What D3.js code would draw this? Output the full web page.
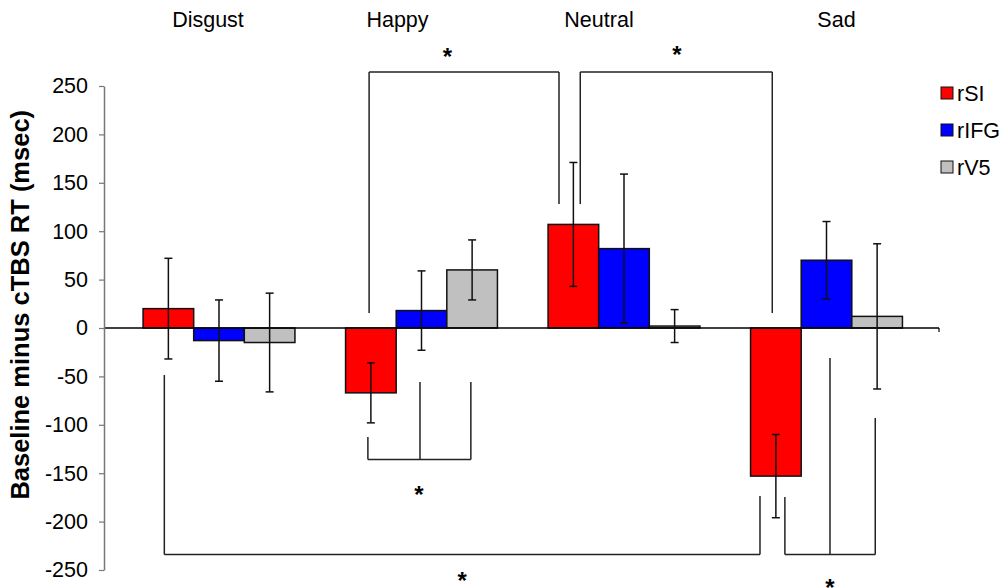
<!DOCTYPE html>
<html>
<head>
<meta charset="utf-8">
<script src="https://cdn.jsdelivr.net/npm/d3@7"></script>
<style>
  html, body { margin: 0; padding: 0; background: #fff; }
  svg { display: block; font-family: "Liberation Sans", Arial, sans-serif; }
</style>
</head>
<body>
<svg id="chart" width="1007" height="588"></svg>
<script>
// Emotion categories and TMS sites
const categories = ["Disgust", "Happy", "Neutral", "Sad"];
const sites = ["rSI", "rIFG", "rV5"];
const siteColors = ["#ff0000", "#0000ff", "#c0c0c0"];

// Baseline minus cTBS RT (msec), one array per site, in category order
const rSI  = [20, -67, 107, -153];
const rIFG = [-13, 18, 82, 70];
const rV5  = [-15, 60, 2, 12];

// Error bar half-lengths (msec)
const rSIErr  = [52, 31, 64, 43];
const rIFGErr = [42, 41, 77, 40];
const rV5Err  = [51, 31, 17, 75];

const yTicks = [250, 200, 150, 100, 50, 0, -50, -100, -150, -200, -250];

// Significance brackets: horizontal level (msec) plus legs [category, fraction of group width, leg end (msec)]
const brackets = [
  { level: 264.5, legs: [["Happy", 0.155, 15.5], ["Neutral", 0.072, 128]] },
  { level: 264.5, legs: [["Neutral", 0.212, 128], ["Sad", 0.143, 15.5]] },
  { level: -135.8, legs: [["Happy", 0.147, -112.6], ["Happy", 0.49, -55.8], ["Happy", 0.825, -55.8]] },
  { level: -234, legs: [["Disgust", 0.14, -48.6], ["Sad", 0.062, -173.6]] },
  { level: -234, legs: [["Sad", 0.226, -174.6], ["Sad", 0.523, -31], ["Sad", 0.821, -93]] }
];
// Asterisks: [category, fraction of group width, level (msec)]
const stars = [
  ["Happy", 0.671, 285],
  ["Neutral", 0.849, 287],
  ["Happy", 0.483, -167],
  ["Happy", 0.767, -256],
  ["Sad", 0.523, -263]
];

const values = [rSI, rIFG, rV5];
const errors = [rSIErr, rIFGErr, rV5Err];

const svg = d3.select("#chart");
const axisX = 104, axisRight = 939;

const y = d3.scaleLinear().domain([-250, 250]).range([570, 86]);
const x = d3.scaleBand().domain(categories).range([117.75, 927.75])
  .paddingInner(0.25).paddingOuter(0.125);
const xs = d3.scaleBand().domain(sites).range([0, x.bandwidth()]);
const color = d3.scaleOrdinal().domain(sites).range(siteColors);

const rows = [];
categories.forEach((c, i) => {
  sites.forEach((s, j) => {
    rows.push({ cat: c, site: s, value: values[j][i], err: errors[j][i] });
  });
});

// Bars
svg.append("g").selectAll("rect").data(rows).join("rect")
  .attr("x", d => x(d.cat) + xs(d.site))
  .attr("y", d => y(Math.max(0, d.value)))
  .attr("width", xs.bandwidth())
  .attr("height", d => Math.abs(y(d.value) - y(0)))
  .attr("fill", d => color(d.site))
  .attr("stroke", "#111")
  .attr("stroke-width", 1.5);

// X axis line at zero
const zeroG = svg.append("g");
zeroG.append("line")
  .attr("x1", axisX).attr("x2", axisRight)
  .attr("y1", y(0)).attr("y2", y(0))
  .attr("stroke", "#000").attr("stroke-width", 1.5);
zeroG.append("line")
  .attr("x1", axisRight).attr("x2", axisRight)
  .attr("y1", y(0)).attr("y2", y(0) + 4)
  .attr("stroke", "#000").attr("stroke-width", 1.2);

// Error bars
const eb = svg.append("g").attr("stroke", "#111").attr("stroke-width", 1.5);
const cx = d => x(d.cat) + xs(d.site) + xs.bandwidth() / 2;
eb.selectAll("line.v").data(rows).join("line").attr("class", "v")
  .attr("x1", cx).attr("x2", cx)
  .attr("y1", d => y(d.value + d.err)).attr("y2", d => y(d.value - d.err));
eb.selectAll("line.t").data(rows).join("line").attr("class", "t")
  .attr("x1", d => cx(d) - 4).attr("x2", d => cx(d) + 4)
  .attr("y1", d => y(d.value + d.err)).attr("y2", d => y(d.value + d.err));
eb.selectAll("line.b").data(rows).join("line").attr("class", "b")
  .attr("x1", d => cx(d) - 4).attr("x2", d => cx(d) + 4)
  .attr("y1", d => y(d.value - d.err)).attr("y2", d => y(d.value - d.err));

// Y axis (plain hyphen for negative labels)
const yAxis = d3.axisLeft(y).tickValues(yTicks).tickSize(5).tickSizeOuter(0)
  .tickPadding(11).tickFormat(d => String(d));
const ya = svg.append("g").attr("transform", `translate(${axisX},0)`).call(yAxis);
ya.select(".domain").attr("stroke", "#777").attr("stroke-width", 1.5);
ya.selectAll(".tick line").attr("stroke", "#777").attr("stroke-width", 1.2);
ya.selectAll(".tick text").attr("font-size", 21.5).attr("fill", "#000")
  .attr("font-family", "Liberation Sans, Arial, sans-serif");

// Y axis title
svg.append("text")
  .attr("transform", `translate(29,${y(24)}) rotate(-90)`)
  .attr("text-anchor", "middle")
  .attr("font-size", 25.5).attr("font-weight", "bold")
  .text("Baseline minus cTBS RT (msec)");

// Category labels across the top
const labelShift = [-11, -24, -25, 10];
svg.append("g").selectAll("text").data(categories).join("text")
  .attr("x", (d, i) => x(d) + x.bandwidth() / 2 + labelShift[i])
  .attr("y", 27)
  .attr("text-anchor", "middle")
  .attr("font-size", 21.5)
  .text(d => d);

// Significance brackets
const px = (cat, f) => x(cat) + f * x.bandwidth();
const bg = svg.append("g").attr("fill", "none").attr("stroke", "#222").attr("stroke-width", 1.5);
brackets.forEach(b => {
  const xsPos = b.legs.map(l => px(l[0], l[1]));
  bg.append("line")
    .attr("x1", d3.min(xsPos)).attr("x2", d3.max(xsPos))
    .attr("y1", y(b.level)).attr("y2", y(b.level));
  b.legs.forEach(l => {
    bg.append("line")
      .attr("x1", px(l[0], l[1])).attr("x2", px(l[0], l[1]))
      .attr("y1", y(b.level)).attr("y2", y(l[2]));
  });
});

svg.append("g").selectAll("text").data(stars).join("text")
  .attr("x", d => px(d[0], d[1]))
  .attr("y", d => y(d[2]) + 13)
  .attr("text-anchor", "middle")
  .attr("font-size", 24)
  .attr("font-weight", "bold")
  .text("*");

// Legend
const lg = svg.append("g").attr("transform", "translate(941,87)");
sites.forEach((s, i) => {
  const row = lg.append("g").attr("transform", `translate(0,${i * 37})`);
  row.append("rect").attr("width", 12).attr("height", 12)
    .attr("fill", color(s)).attr("stroke", "#111").attr("stroke-width", 1);
  row.append("text").attr("x", 16).attr("y", 13.5)
    .attr("font-size", 21.5).text(s);
});
</script>
</body>
</html>
